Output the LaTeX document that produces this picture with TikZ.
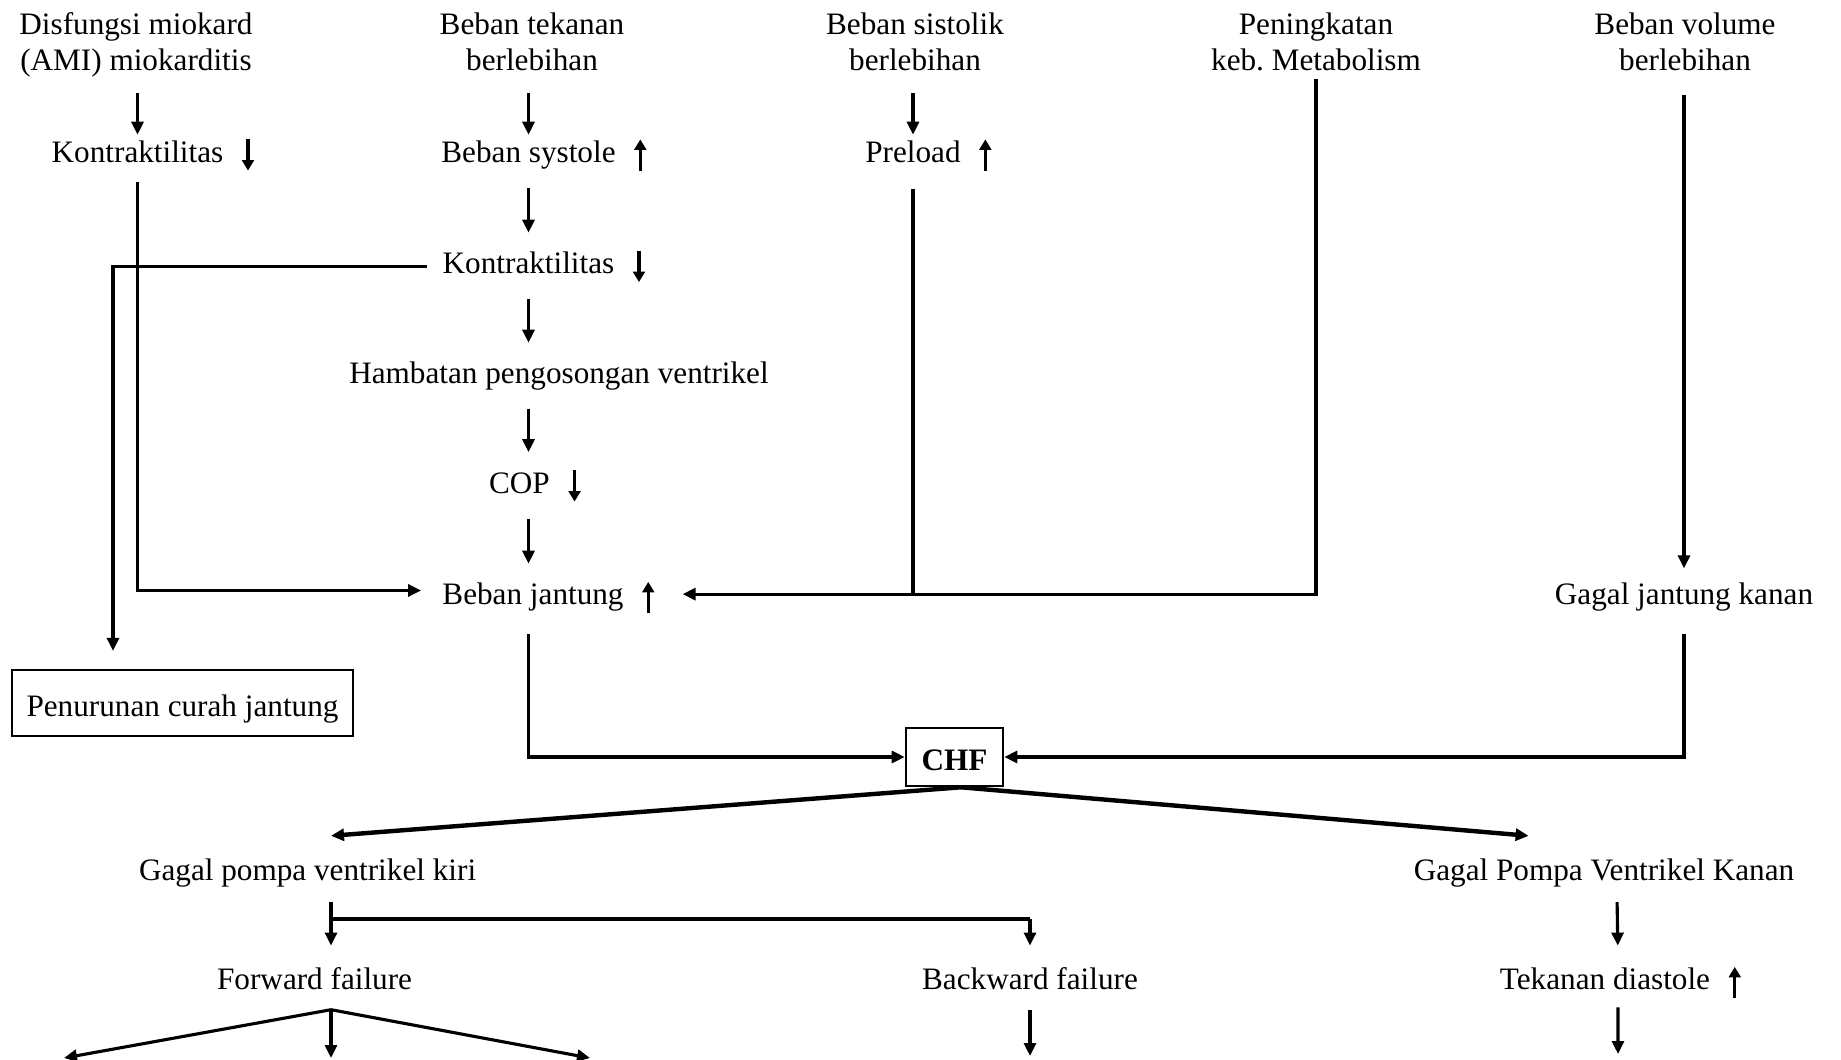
\documentclass[tikz,border=0pt]{standalone}
\usepackage{fontspec}
\setmainfont{Liberation Serif}
\usetikzlibrary{arrows.meta,positioning}

\tikzset{
  huruf/.style={font=\fontsize{12}{13.8}\selectfont, inner xsep=6pt, inner ysep=3pt},
  teks/.style={huruf, align=center},
  satu/.style={huruf, text height=8pt, text depth=2.6pt},
  kotak/.style={huruf, draw, line width=0.8pt, text height=10pt, text depth=0pt},
  garis/.style={line width=1.2pt},
  alur/.style={garis, shorten <=4pt, shorten >=4.5pt},
  tebal/.style={line width=1.7pt},
  panahkecil/.style={line width=1.2pt, -{Triangle[length=4pt,width=4.5pt]}}
}
\newcommand{\naik}[1]{\draw[panahkecil] ([xshift=3.3pt,yshift=-6pt]#1.east) -- ++(0,12pt);}
\newcommand{\turun}[1]{\draw[panahkecil] ([xshift=3.3pt,yshift=6pt]#1.east) -- ++(0,-12pt);}

\begin{document}
\begin{tikzpicture}[>={Triangle[length=5pt,width=4.6pt]}, x=0.3846pt, y=-0.3846pt]
\useasboundingbox (0,0) rectangle (1841,1060);
\node[teks] (d1) at (136,45.2) {Disfungsi miokard\\(AMI) miokarditis};
\node[teks] (t1) at (532,41.7) {Beban tekanan\\berlebihan};
\node[teks] (s1) at (915,41.7) {Beban sistolik\\berlebihan};
\node[teks] (m1) at (1316,41.7) {Peningkatan\\keb.\ Metabolism};
\node[teks] (v1) at (1685,41.7) {Beban volume\\berlebihan};
\node[satu] (k1) at (137.5,155) {Kontraktilitas};
\node[satu] (bs) at (528.5,155) {Beban systole};
\node[satu] (pl) at (913,155) {Preload};
\node[satu] (k2) at (528.5,266.5) {Kontraktilitas};
\node[satu] (h) at (559,376.5) {Hambatan pengosongan ventrikel};
\node[satu] (c) at (519.5,486) {COP};
\node[satu] (bj) at (533,597.5) {Beban jantung};
\node[satu] (gk) at (1684,597.5) {Gagal jantung kanan};
\node[kotak, minimum width=131pt, minimum height=25.3pt, inner xsep=4pt] (pc) at (182.5,703) {Penurunan curah jantung};
\node[kotak, font=\fontsize{12}{13.8}\selectfont\bfseries, minimum width=37.5pt, minimum height=22.5pt] (chf) at (954.5,757) {CHF};
\node[satu] (gpk) at (307.6,873.5) {Gagal pompa ventrikel kiri};
\node[satu] (gpkn) at (1604,873.5) {Gagal Pompa Ventrikel Kanan};
\node[satu] (ff) at (314.6,982.5) {Forward failure};
\node[satu] (bf) at (1030,982.5) {Backward failure};
\node[satu] (td) at (1605,982.5) {Tekanan diastole};

\turun{k1} \naik{bs} \naik{pl} \turun{k2} \turun{c} \naik{bj} \naik{td}

\coordinate (belok) at (113,0);
\coordinate (bjkiri) at ([yshift=2.7pt]bj.west);
\coordinate (bjkanan) at ([xshift=16.5pt,yshift=1.3pt]bj.east);
\coordinate (kolom) at (331,919);
\coordinate (puncak) at (331,1009.7);
\coordinate (ujungA) at (64,1058);
\coordinate (ujungB) at (331,1058);
\coordinate (ujungC) at (590,1058);
\coordinate (ujungD) at (1030,1056);
\coordinate (ujungE) at (1618,1054);

\path[->,garis,shorten >=-0.7pt] ([yshift=15.2pt]k1.north) edge (k1.north)
               ([yshift=15.2pt]bs.north) edge (bs.north)
               ([yshift=15.2pt]pl.north) edge (pl.north);
\path[->,alur] (bs.south) edge (k2.north)
               (k2.south) edge (k2.south |- h.north)
               (k2.south |- h.south) edge (k2.south |- c.north)
               (k2.south |- c.south) edge (k2.south |- bj.north);
\path[->,garis,shorten <=6.1pt,shorten >=2.7pt] (gk.north |- v1.south) edge (gk.north);
\path[->,garis,shorten <=2.5pt,shorten >=5.7pt] (gpk.south -| kolom) edge (ff.north -| kolom)
               ([xshift=5pt]gpkn.south) edge ([xshift=5pt]td.north);

\draw[->,garis,shorten <=2pt,shorten >=2pt] (k1.south) -- (k1.south |- bjkiri) -- (bjkiri);
\draw[garis,shorten <=4.4pt] (pl.south) -- (pl.south |- bjkanan);
\draw[->,garis] (m1.south) -- (m1.south |- bjkanan) -- (bjkanan);
\draw[->,garis,shorten >=7pt] (k2.west) -- (k2.west -| belok) -- (belok |- pc.north);
\draw[->,garis,shorten <=5.7pt] (bj.south -| k2.south) -- (k2.south |- chf.west) -- (chf.west);
\draw[->,garis,shorten <=5.7pt] (gk.south) -- (gk.south |- chf.east) -- (chf.east);

\draw[->,tebal] ([xshift=2.5pt]chf.south) -- ([xshift=9pt,yshift=6pt]gpk.north);
\draw[->,tebal] ([xshift=2.5pt]chf.south) -- ([xshift=-29pt,yshift=6pt]gpkn.north);

\draw[garis] (kolom) -- (kolom -| bf.north);
\draw[->,garis,shorten >=5.7pt] (kolom -| bf.north) -- (bf.north);

\draw[->,garis] (puncak) -- (ujungA);
\draw[->,garis] (puncak) -- (ujungC);
\draw[->,garis] (puncak) -- (ujungB);
\draw[->,garis,shorten <=2.2pt] (bf.south) -- (ujungD);
\draw[->,garis,shorten <=1.1pt] ([xshift=5pt]td.south) -- (ujungE);
\end{tikzpicture}
\end{document}
